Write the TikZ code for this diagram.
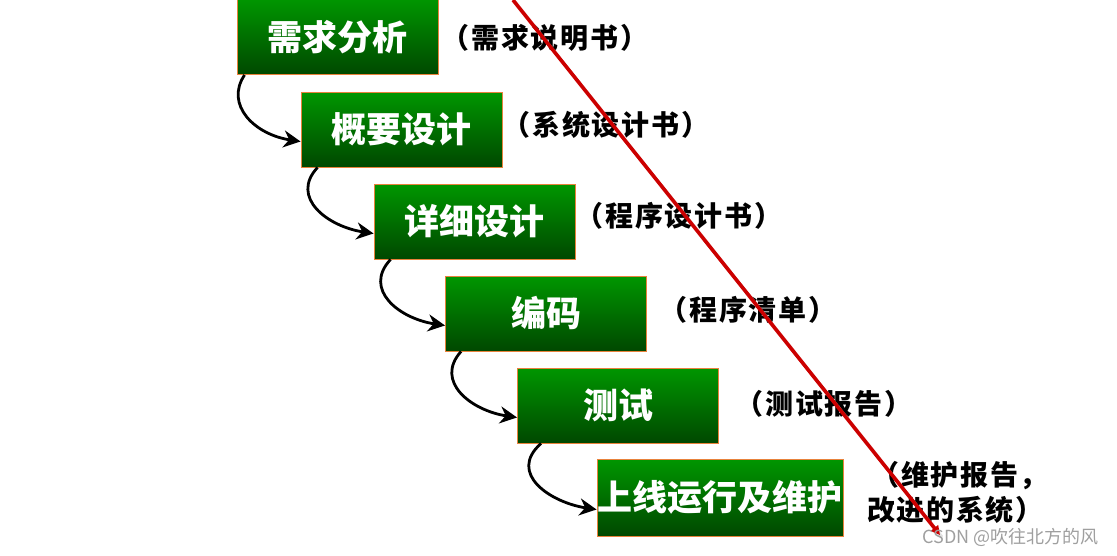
\documentclass[tikz,border=0pt]{standalone}
\usepackage{fontspec}
\newfontfamily\cjk{Noto Sans CJK SC}
\newfontfamily\cjknote[LetterSpace=6]{Noto Sans CJK SC}
\usetikzlibrary{arrows.meta}

\definecolor{boxtop}{RGB}{0,150,0}
\definecolor{boxbot}{RGB}{0,72,0}
\definecolor{boxline}{RGB}{232,130,60}
\definecolor{redline}{RGB}{204,0,0}

\begin{document}
\begin{tikzpicture}[x=1pt,y=-1pt,
	stage/.style={draw=boxline, line width=0.9pt, top color=boxtop, middle color=boxtop,
		bottom color=boxbot, minimum width=201pt, minimum height=75pt, inner sep=0pt,
		text=white, font=\cjk\bfseries\fontsize{35}{38}\selectfont},
	note/.style={inner sep=0pt, font=\cjknote\bfseries\fontsize{28}{35}\selectfont},
	flow/.style={line width=2.8pt, -{Stealth[length=17pt,width=17pt]}}]
	\useasboundingbox (0,0) rectangle (1117,555);
	
	% 六个阶段
	\node[stage] (b1) at (337.5,37)  {需求分析};
	\node[stage] (b2) at (401.5,129.5) {概要设计};
	\node[stage] (b3) at (474.5,221.5) {详细设计};
	\node[stage] (b4) at (546,313.5) {编码};
	\node[stage] (b5) at (618,405.5) {测试};
	\node[stage, minimum width=246pt, minimum height=77pt] (b6) at (720,497.5) {上线运行及维护};
	
	% 各阶段的文档
	\node[note] (n1) at (545,38)  {（需求说明书）};
	\node[note] (n2) at (606,125) {（系统设计书）};
	\node[note] (n3) at (679,216) {（程序设计书）};
	\node[note] (n4) at (748,310) {（程序清单）};
	\node[note] (n5) at (824,404) {（测试报告）};
	\node[note, align=left, anchor=west] (n6) at (867,492) {\hspace{0.15em}（维护报告，\\改进的系统）};
	
	% 阶段之间的弯箭头
	\foreach \a/\b/\s/\c in {b1/b2/8/-20, b2/b3/17/-28, b3/b4/17/-28, b4/b5/16/-27, b5/b6/24/-34}
	\draw[flow] ([xshift=\s pt]\a.south west) .. controls +(\c,30) and +(-46,-7) .. ([yshift=-12pt]\b.west);
	
	% 红色斜线
	\coordinate (r1) at (513,0);
	\coordinate (r2) at (940,535);
	\draw[gray!40, line width=3pt, opacity=0.6] ([xshift=2pt,yshift=-2pt]r1) -- ([xshift=2pt,yshift=-2pt]r2);
	\draw[redline, line width=3.6pt, -{Triangle[length=9pt,width=9pt]}] (r1) -- (r2);
	
	% 水印
	\node[text=gray!75, font=\cjk\fontsize{18}{20}\selectfont, anchor=east] (wm) at (1102,537) {CSDN @吹往北方的风};
\end{tikzpicture}
\end{document}
